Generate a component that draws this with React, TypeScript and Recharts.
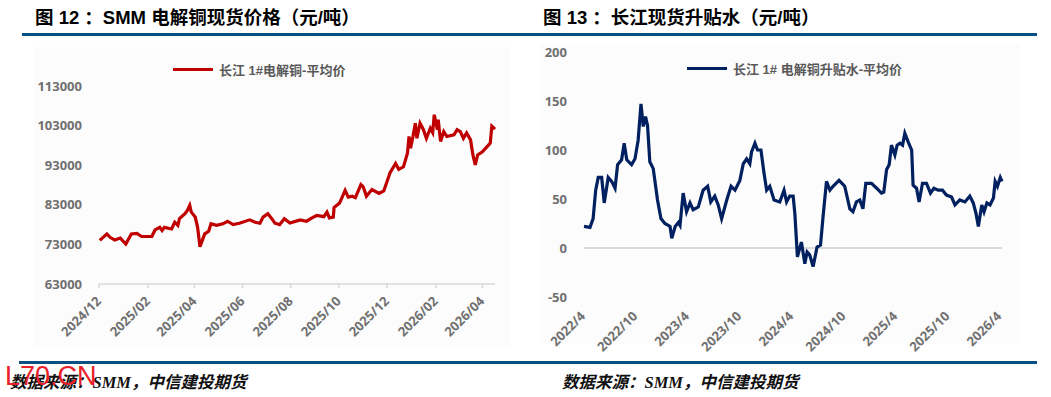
import React from "react";
import { LineChart, Line, XAxis, YAxis, ReferenceLine } from "recharts";

// 图12: SMM 电解铜现货价格（元/吨）
const cuDates = [
  "2024-12-02", "2024-12-11", "2024-12-15", "2024-12-21", "2024-12-28",
  "2025-01-04", "2025-01-11", "2025-01-18", "2025-01-24", "2025-02-06",
  "2025-02-10", "2025-02-16", "2025-02-19", "2025-02-22", "2025-03-03",
  "2025-03-07", "2025-03-11", "2025-03-13", "2025-03-20", "2025-03-23",
  "2025-03-26", "2025-03-28", "2025-04-02", "2025-04-05", "2025-04-08",
  "2025-04-14", "2025-04-19", "2025-04-22", "2025-04-29", "2025-05-07",
  "2025-05-13", "2025-05-20", "2025-05-28", "2025-06-10", "2025-06-17",
  "2025-06-23", "2025-06-27", "2025-07-03", "2025-07-08", "2025-07-12",
  "2025-07-18", "2025-07-24", "2025-07-31", "2025-08-13", "2025-08-21",
  "2025-08-28", "2025-09-03", "2025-09-12", "2025-09-16", "2025-09-19",
  "2025-09-24", "2025-09-25", "2025-10-02", "2025-10-09", "2025-10-13",
  "2025-10-18", "2025-10-22", "2025-10-29", "2025-11-01", "2025-11-05",
  "2025-11-12", "2025-11-21", "2025-11-27", "2025-12-05", "2025-12-12",
  "2025-12-16", "2025-12-22", "2025-12-27", "2025-12-29", "2025-12-31",
  "2026-01-03", "2026-01-06", "2026-01-08", "2026-01-12", "2026-01-16",
  "2026-01-20", "2026-01-25", "2026-01-28", "2026-01-30", "2026-02-03",
  "2026-02-04", "2026-02-07", "2026-02-11", "2026-02-15", "2026-02-24",
  "2026-02-28", "2026-03-04", "2026-03-08", "2026-03-12", "2026-03-17",
  "2026-03-20", "2026-03-23", "2026-03-26", "2026-04-01", "2026-04-07",
  "2026-04-11", "2026-04-13", "2026-04-17",
];
const cuPrice = [
  74000, 75650, 74800, 74100, 74600,
  73100, 75650, 75800, 75000, 75000,
  76650, 77300, 76500, 77300, 76900,
  78600, 77800, 79500, 80750, 81600,
  82850, 81150, 79900, 77300, 72400,
  75650, 76300, 78200, 77800, 78200,
  78850, 78000, 78350, 79200, 78600,
  78350, 79900, 80750, 79500, 78350,
  78000, 79500, 78400, 79200, 78850,
  79700, 80300, 80000, 81150, 79700,
  79900, 82300, 83450, 86650, 84950,
  85150, 84800, 88100, 87500, 85150,
  86850, 85850, 86500, 91100, 93450,
  91950, 92600, 96000, 100250, 97300,
  100250, 103600, 99800, 103600, 102100,
  99800, 102350, 101250, 105750, 101950,
  104500, 99000, 101500, 100250, 100650,
  101950, 101500, 99800, 101150, 99400,
  95600, 93050, 95600, 96400, 97700,
  98600, 102850, 102100,
];
const cuTickLabels = [
  "2024/12", "2025/02", "2025/04", "2025/06", "2025/08",
  "2025/10", "2025/12", "2026/02", "2026/04",
];
const cuYTicks = [63000, 73000, 83000, 93000, 103000, 113000];

// 图13: 长江现货升贴水（元/吨）
const basisDates = [
  "2022-04-01", "2022-04-22", "2022-05-03", "2022-05-12", "2022-05-21",
  "2022-06-02", "2022-06-11", "2022-06-25", "2022-07-07", "2022-07-19",
  "2022-07-28", "2022-08-11", "2022-08-20", "2022-08-29", "2022-09-15",
  "2022-09-27", "2022-10-08", "2022-10-18", "2022-10-26", "2022-11-03",
  "2022-11-10", "2022-11-18", "2022-11-30", "2022-12-15", "2022-12-27",
  "2023-01-10", "2023-01-28", "2023-02-03", "2023-02-15", "2023-02-26",
  "2023-03-04", "2023-03-15", "2023-03-27", "2023-04-08", "2023-04-19",
  "2023-05-07", "2023-05-24", "2023-06-09", "2023-06-20", "2023-07-04",
  "2023-07-16", "2023-07-28", "2023-08-15", "2023-08-30", "2023-09-13",
  "2023-09-30", "2023-10-12", "2023-10-24", "2023-11-04", "2023-11-10",
  "2023-11-22", "2023-12-01", "2023-12-13", "2023-12-24", "2024-01-02",
  "2024-01-13", "2024-01-28", "2024-02-17", "2024-03-03", "2024-03-12",
  "2024-03-23", "2024-04-04", "2024-04-10", "2024-04-19", "2024-05-03",
  "2024-05-15", "2024-05-23", "2024-06-01", "2024-06-13", "2024-06-27",
  "2024-07-09", "2024-07-18", "2024-07-30", "2024-08-11", "2024-08-22",
  "2024-09-12", "2024-10-02", "2024-10-20", "2024-10-31", "2024-11-12",
  "2024-11-24", "2024-12-05", "2024-12-15", "2025-01-04", "2025-01-22",
  "2025-02-08", "2025-02-16", "2025-02-26", "2025-03-07", "2025-03-15",
  "2025-03-27", "2025-04-04", "2025-04-14", "2025-04-23", "2025-05-01",
  "2025-05-13", "2025-05-25", "2025-05-30", "2025-06-11", "2025-06-20",
  "2025-07-02", "2025-07-16", "2025-07-30", "2025-08-11", "2025-08-26",
  "2025-09-10", "2025-09-24", "2025-10-12", "2025-10-24", "2025-11-10",
  "2025-11-28", "2025-12-15", "2025-12-27", "2026-01-06", "2026-01-14",
  "2026-01-26", "2026-02-03", "2026-02-13", "2026-02-24", "2026-03-08",
  "2026-03-14", "2026-03-22", "2026-04-01", "2026-04-07",
];
const basisValues = [
  22, 21, 30, 59, 72,
  72, 46, 72, 68, 61,
  85, 90, 107, 90, 85,
  91, 110, 147, 124, 134,
  125, 88, 81, 49, 30,
  25, 22, 10, 22, 26,
  23, 56, 37, 46, 39,
  42, 59, 63, 47, 53,
  44, 30, 49, 63, 59,
  69, 86, 91, 86, 98,
  107, 100, 100, 76, 59,
  63, 49, 47, 59, 47,
  53, 53, 35, -9, 6,
  -16, -4, -7, -19, 1,
  3, 32, 68, 59, 63,
  69, 63, 40, 37, 47,
  49, 40, 66, 66, 61,
  56, 57, 80, 85, 105,
  95, 105, 107, 105, 117,
  108, 100, 64, 61, 47,
  66, 66, 56, 61, 59,
  59, 54, 52, 44, 49,
  47, 53, 46, 35, 22,
  44, 37, 46, 44, 51,
  68, 63, 72, 68,
];
const basisTickLabels = [
  "2022/4", "2022/10", "2023/4", "2023/10", "2024/4",
  "2024/10", "2025/4", "2025/10", "2026/4",
];
const basisYTicks = [-50, 0, 50, 100, 150, 200];

const toTime = (s: string) => {
  const [y, m, d] = s.split(/[-/]/).map(Number);
  return Date.UTC(y, m - 1, d || 1);
};

const cuData = cuDates.map((d, i) => ({ t: toTime(d), price: cuPrice[i] }));
const cuTicks = cuTickLabels.map(toTime);
const basisData = basisDates.map((d, i) => ({ t: toTime(d), basis: basisValues[i] }));
const basisTicks = basisTickLabels.map(toTime);

const axisFont = "'Open Sans', 'Noto Sans CJK SC', sans-serif";
const cjkFont = "'Liberation Sans', 'Noto Sans CJK SC', sans-serif";

const SlantTick = (props: any) => {
  const { x, y, payload, ticks, labels, dx, dy } = props;
  const label = labels[ticks.indexOf(payload.value)] ?? "";
  const ax = x + dx;
  const ay = y + dy;
  return (
    <text
      x={ax}
      y={ay}
      transform={`rotate(-45, ${ax}, ${ay})`}
      textAnchor="end"
      fill="#707070"
      fontSize={13}
      fontWeight={700}
      fontFamily={axisFont}
    >
      {label}
    </text>
  );
};

const yTickStyle = {
  fill: "#707070",
  fontSize: 13,
  fontWeight: 700,
  fontFamily: axisFont,
};

function LegendItem(props: { left: number; top: number; color: string; text: string }) {
  return (
    <div
      style={{
        position: "absolute",
        left: props.left,
        top: props.top,
        display: "flex",
        alignItems: "center",
        height: 16,
      }}
    >
      <div style={{ width: 40, height: 3, background: props.color, marginRight: 6 }} />
      <span
        style={{
          fontSize: 13,
          color: "#595959",
          fontFamily: cjkFont,
          fontWeight: 700,
          whiteSpace: "nowrap",
        }}
      >
        {props.text}
      </span>
    </div>
  );
}

function Footer(props: { left: number }) {
  return (
    <div
      style={{
        position: "absolute",
        left: props.left,
        top: 369,
        fontSize: 16.5,
        fontStyle: "italic",
        fontWeight: 700,
        color: "#111",
        whiteSpace: "nowrap",
        fontFamily: "'Noto Sans CJK SC', sans-serif",
      }}
    >
      数据来源：
      <span style={{ fontFamily: "'Liberation Serif', serif", fontWeight: 700 }}>SMM</span>
      ，中信建投期货
    </div>
  );
}

export default function App() {
  const titleStyle: React.CSSProperties = {
    position: "absolute",
    top: 6,
    fontSize: 18.5,
    fontWeight: 700,
    color: "#000",
    fontFamily: cjkFont,
    whiteSpace: "nowrap",
    lineHeight: "24px",
  };
  return (
    <div
      style={{
        position: "absolute",
        left: 0,
        top: 0,
        width: 1051,
        height: 397,
        background: "#fff",
        overflow: "hidden",
      }}
    >
      <div style={{ ...titleStyle, left: 35 }}>图 12 ：SMM 电解铜现货价格（元/吨）</div>
      <div style={{ ...titleStyle, left: 543 }}>图 13 ：长江现货升贴水（元/吨）</div>
      <div style={{ position: "absolute", left: 22, top: 33, width: 1015, height: 3, background: "#0b5082" }} />

      <div style={{ position: "absolute", left: 33, top: 47, width: 477, height: 300, background: "#fcfcfc" }} />
      <div style={{ position: "absolute", left: 540, top: 44, width: 480, height: 300, background: "#fcfcfc" }} />

      <div style={{ position: "absolute", left: 0, top: 40 }}>
        <LineChart
          width={530}
          height={320}
          data={cuData}
          margin={{ top: 46, right: 35, left: 20, bottom: 16 }}
        >
          <XAxis
            dataKey="t"
            type="number"
            domain={[cuTicks[0], "dataMax"]}
            ticks={cuTicks}
            interval={0}
            height={60}
            axisLine={{ stroke: "#d9d9d9", strokeWidth: 1.5 }}
            tickLine={{ stroke: "#d9d9d9", strokeWidth: 1.5 }}
            tickSize={4}
            tickMargin={0}
            tick={<SlantTick ticks={cuTicks} labels={cuTickLabels} dx={3} dy={14} />}
          />
          <YAxis
            type="number"
            domain={[63000, 113000]}
            ticks={cuYTicks}
            width={79}
            axisLine={false}
            tickLine={false}
            tickSize={0}
            tickMargin={17}
            tick={yTickStyle}
            interval={0}
          />
          <Line
            type="linear"
            dataKey="price"
            stroke="#c00000"
            strokeWidth={3.2}
            dot={false}
            isAnimationActive={false}
          />
        </LineChart>
      </div>

      <div style={{ position: "absolute", left: 530, top: 40 }}>
        <LineChart
          width={521}
          height={320}
          data={basisData}
          margin={{ top: 12, right: 49, left: 0, bottom: 13 }}
        >
          <XAxis
            dataKey="t"
            type="number"
            domain={[basisTicks[0], "dataMax"]}
            ticks={basisTicks}
            interval={0}
            height={50}
            axisLine={false}
            tickLine={false}
            tickSize={0}
            tickMargin={0}
            tick={<SlantTick ticks={basisTicks} labels={basisTickLabels} dx={2} dy={20} />}
          />
          <YAxis
            type="number"
            domain={[-50, 200]}
            ticks={basisYTicks}
            width={54}
            axisLine={false}
            tickLine={false}
            tickSize={0}
            tickMargin={17}
            tick={yTickStyle}
            interval={0}
          />
          <ReferenceLine y={0} stroke="#d9d9d9" strokeWidth={2} />
          <Line
            type="linear"
            dataKey="basis"
            stroke="#002060"
            strokeWidth={3.2}
            dot={false}
            isAnimationActive={false}
          />
        </LineChart>
      </div>

      <LegendItem left={173} top={61} color="#c00000" text="长江 1#电解铜-平均价" />
      <LegendItem left={687} top={60} color="#002060" text="长江 1# 电解铜升贴水-平均价" />

      <div style={{ position: "absolute", left: 19, top: 361, width: 1018, height: 3, background: "#0b5082" }} />
      <Footer left={10} />
      <Footer left={562} />
      <div
        style={{
          position: "absolute",
          left: 5,
          top: 361,
          fontSize: 27,
          color: "#e8202a",
          fontFamily: "'Liberation Sans', sans-serif",
          whiteSpace: "nowrap",
          lineHeight: "30px",
        }}
      >
        L70.CN
      </div>
    </div>
  );
}
